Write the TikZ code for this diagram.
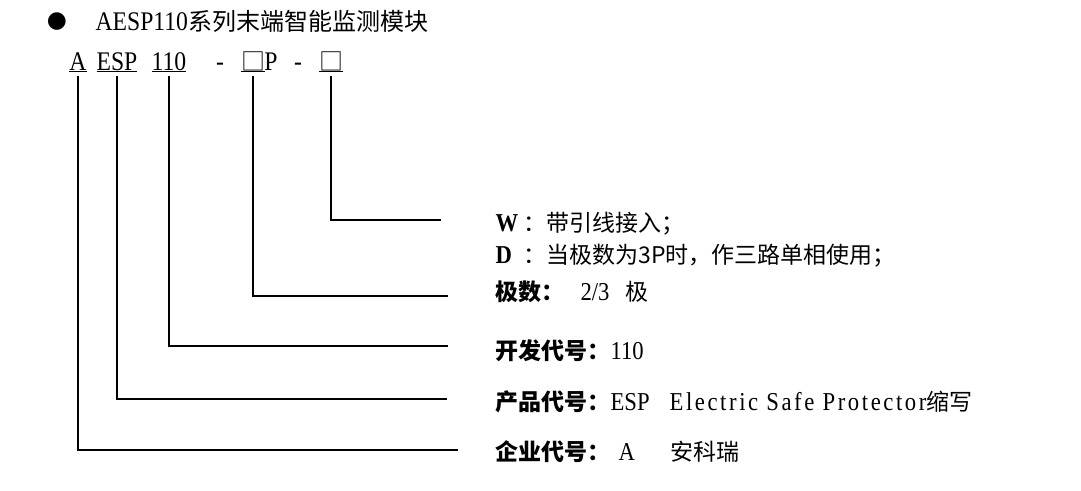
\documentclass[tikz,border=0pt]{standalone}
\usepackage{fontspec}
\setmainfont{Liberation Serif}[Scale=1.12, FakeStretch=0.88]
\newfontfamily\cjk{Noto Sans CJK SC}
\newfontfamily\spaced{Liberation Serif}[Scale=1.12, FakeStretch=0.88, LetterSpace=10]
\newfontfamily\sym{DejaVu Sans}
\usepackage{tikz}
\usetikzlibrary{positioning}
\tikzstyle{codepart} = [anchor=base, inner sep=3pt, font=\fontsize{24}{28}\selectfont]
\tikzstyle{desc} = [anchor=base west, inner sep=0pt]
\newcommand{\ul}[1]{\underline{\smash{#1}}}

\begin{document}
\begin{tikzpicture}[x=1pt, y=-1pt, line width=1.2pt, font=\fontsize{23}{28}\selectfont]
    \useasboundingbox (0,0) rectangle (1081,490);
    % heading
    \node [inner sep=0pt] (dot) at (57,22) {\sym ●};
    \node [desc, font=\fontsize{24}{28}\selectfont] (title) at (95,30) {AESP110{\cjk 系列末端智能监测模块}};
    % model code
    \node [codepart] (firm) at (78,70) {\ul{A}};
    \node [codepart] (prod) at (117,70) {\ul{ESP}};
    \node [codepart] (dev) at (169,70) {\ul{110}};
    \node [codepart] (dasha) at (220,70) {-};
    \node [codepart] (pole) at (253,70) {\ul{\cjk □}};
    \node [codepart] (pee) at (271,70) {P};
    \node [codepart] (dashb) at (298,70) {-};
    \node [codepart] (wire) at (331,70) {\ul{\cjk □}};
    % meanings
    \node [desc] (wdesc) at (495,231) {\makebox[28pt][l]{\bfseries W}{\cjk ：带引线接入；}};
    \node [desc] (ddesc) at (495,263) {\makebox[28pt][l]{\bfseries D}{\cjk ：当极数为3P时，作三路单相使用；}};
    \node [desc] (poledesc) at (495,300) {{\cjk\bfseries 极数：}\hspace{16pt}2/3\hspace{16pt}{\cjk 极}};
    \node [desc] (devdesc) at (495,359) {{\cjk\bfseries 开发代号：}110};
    \node [desc] (proddesc) at (495,410) {{\cjk\bfseries 产品代号：}ESP\hspace{20pt}{\spaced Electric Safe Protector}{\cjk 缩写}};
    \node [desc] (firmdesc) at (495,460) {{\cjk\bfseries 企业代号：}\hspace{8pt}A\hspace{36pt}{\cjk 安科瑞}};
    % leader lines
    \coordinate (wireend) at (441,220);
    \coordinate (poleend) at (448,296);
    \coordinate (devend) at (448,346);
    \coordinate (prodend) at (447,399);
    \coordinate (firmend) at (458,450);
    \draw (wire.south) |- (wireend);
    \draw (pole.south) |- (poleend);
    \draw (dev.south) |- (devend);
    \draw (prod.south) |- (prodend);
    \draw (firm.south) |- (firmend);
\end{tikzpicture}
\end{document}
